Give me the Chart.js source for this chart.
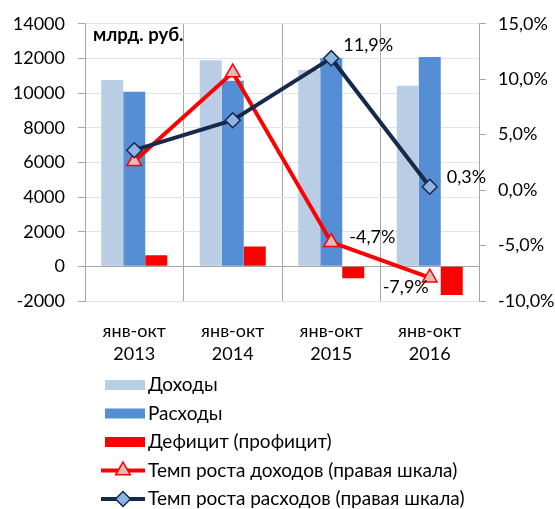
<!DOCTYPE html>
<html><head><meta charset="utf-8">
<script src="https://cdn.jsdelivr.net/npm/chart.js@4/dist/chart.umd.min.js"></script>
<style>html,body{margin:0;padding:0;background:#fff;}#wrap{width:555px;height:509px;}</style>
</head><body><div id="wrap"><canvas id="c" width="555" height="509"></canvas></div>
<script>
const categories = [["янв-окт","2013"],["янв-окт","2014"],["янв-окт","2015"],["янв-окт","2016"]];
const revenues = [10750, 11900, 11340, 10430];
const expenses = [10080, 10710, 12020, 12080];
const deficit = [640, 1150, -680, -1650];
const revenueGrowth = [2.6, 10.6, -4.7, -7.9];
const expenseGrowth = [3.6, 6.3, 11.9, 0.3];
const seriesNames = ["Доходы","Расходы","Дефицит (профицит)","Темп роста доходов (правая шкала)","Темп роста расходов (правая шкала)"];
const unitLabel = "млрд. руб.";
const leftTicks = {min:-2000, max:14000, step:2000};
const rightTicks = {min:-10, max:15, step:5};

const FONT = "Lato";
const fmtPct = v => v.toFixed(1).replace('.', ',') + '%';

// label placement (style, not data): [dataset index, point index, dx, dy, align]
const labelPlacement = [
  [4, 2, 12, -13, 'left'],
  [4, 3, 17, -10, 'left'],
  [3, 2, 18, -5, 'left'],
  [3, 3, -1, 9, 'right']
];

const labelPlugin = {
  id: 'pointLabels',
  afterDatasetsDraw(chart) {
    const ctx = chart.ctx;
    ctx.save();
    ctx.font = "18px " + FONT;
    ctx.fillStyle = "#000";
    ctx.textBaseline = "middle";
    labelPlacement.forEach(([di, pi, dx, dy, al]) => {
      const el = chart.getDatasetMeta(di).data[pi];
      const v = chart.data.datasets[di].data[pi];
      ctx.textAlign = al;
      ctx.fillText(fmtPct(v), el.x + dx, el.y + dy);
    });
    ctx.font = "bold 18.5px " + FONT;
    ctx.textAlign = "left";
    ctx.fillText(unitLabel, chart.chartArea.left + 8, chart.chartArea.top + 11);
    ctx.restore();
  }
};

const legendPlugin = {
  id: 'vertLegend',
  afterDraw(chart) {
    const ctx = chart.ctx;
    ctx.save();
    ctx.font = "19px " + FONT;
    ctx.textBaseline = "middle";
    ctx.textAlign = "left";
    const y0 = 385, step = 28.5;
    chart.data.datasets.forEach((ds, i) => {
      const y = y0 + i * step;
      if (ds.type === 'line') {
        ctx.strokeStyle = ds.borderColor;
        ctx.lineWidth = ds.borderWidth;
        ctx.beginPath(); ctx.moveTo(101, y); ctx.lineTo(145, y); ctx.stroke();
        ctx.fillStyle = ds.pointBackgroundColor;
        ctx.strokeStyle = ds.pointBorderColor;
        ctx.lineWidth = ds.pointBorderWidth;
        Chart.helpers.drawPoint(ctx, {pointStyle: ds.pointStyle, radius: ds.pointRadius, borderWidth: ds.pointBorderWidth, rotation: 0}, 123, y);
      } else {
        ctx.fillStyle = ds.backgroundColor;
        ctx.fillRect(105, y - 5, 40, 10);
      }
      ctx.fillStyle = "#000";
      ctx.fillText(ds.label, 148, y);
    });
    ctx.restore();
  }
};

function build() {
  new Chart(document.getElementById('c'), {
    type: 'bar',
    data: {
      labels: categories,
      datasets: [
        {label: seriesNames[0], data: revenues, backgroundColor: '#B9CDE5', yAxisID: 'y', order: 3, categoryPercentage: 0.67, barPercentage: 1.0},
        {label: seriesNames[1], data: expenses, backgroundColor: '#558ED5', yAxisID: 'y', order: 3, categoryPercentage: 0.67, barPercentage: 1.0},
        {label: seriesNames[2], data: deficit, backgroundColor: '#FF0000', yAxisID: 'y', order: 3, categoryPercentage: 0.67, barPercentage: 1.0},
        {type: 'line', label: seriesNames[3], data: revenueGrowth, yAxisID: 'y1', order: 1,
         borderColor: '#FF0000', borderWidth: 4, tension: 0,
         pointStyle: 'triangle', pointRadius: 8.5, pointBackgroundColor: '#E6B9B8', pointBorderColor: '#FF0000', pointBorderWidth: 1.5},
        {type: 'line', label: seriesNames[4], data: expenseGrowth, yAxisID: 'y1', order: 0,
         borderColor: '#17294A', borderWidth: 4, tension: 0,
         pointStyle: 'rectRot', pointRadius: 7.5, pointBackgroundColor: '#8EB4E3', pointBorderColor: '#17294A', pointBorderWidth: 1.5}
      ]
    },
    options: {
      responsive: false,
      animation: false,
      devicePixelRatio: 1,
      layout: {padding: {top: 20, bottom: 143, left: 0, right: 0}},
      plugins: {legend: {display: false}, tooltip: {enabled: false}},
      scales: {
        x: {
          offset: true,
          grid: {color: '#A6A6A6', drawTicks: false, offset: true},
          border: {display: false},
          ticks: {color: '#000', font: {family: FONT, size: 18, lineHeight: 1.3}, padding: 18, maxRotation: 0},
          afterFit: s => { s.height = 65; }
        },
        y: {
          position: 'left',
          min: leftTicks.min, max: leftTicks.max,
          grid: {color: c => (c.tick && c.tick.value === 0) ? '#A6A6A6' : '#DCE4F0', tickColor: '#A6A6A6', tickLength: 7},
          border: {color: '#A6A6A6'},
          ticks: {stepSize: leftTicks.step, color: '#000', font: {family: FONT, size: 18}, padding: 13, callback: v => String(v)},
          afterFit: s => { s.width = 85; }
        },
        y1: {
          position: 'right',
          min: rightTicks.min, max: rightTicks.max,
          grid: {drawOnChartArea: false, tickColor: '#A6A6A6', tickLength: 7},
          border: {color: '#A6A6A6'},
          ticks: {stepSize: rightTicks.step, color: '#000', font: {family: FONT, size: 18}, padding: 12, callback: v => fmtPct(v)},
          afterFit: s => { s.width = 76; }
        }
      }
    },
    plugins: [labelPlugin, legendPlugin]
  });
}
(document.fonts ? Promise.all([document.fonts.load('18px Lato'), document.fonts.load('bold 18px Lato')]) : Promise.resolve()).then(build, build);
</script></body></html>
